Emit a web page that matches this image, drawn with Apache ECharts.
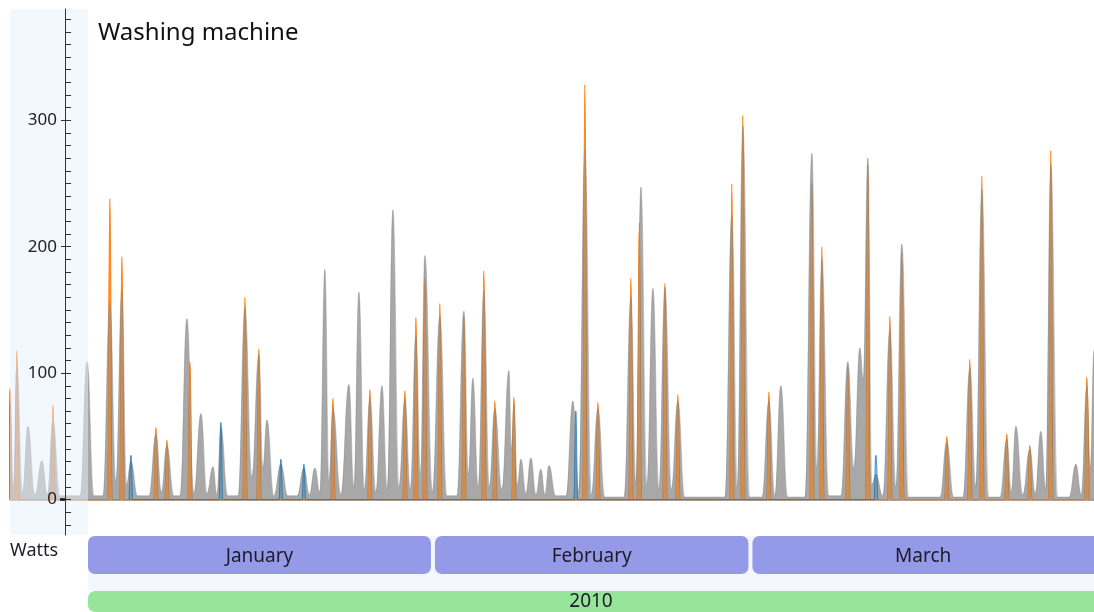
<!DOCTYPE html>
<html>
<head>
<meta charset="utf-8">
<script src="https://cdn.jsdelivr.net/npm/echarts@6/dist/echarts.min.js"></script>
<style>
  html, body { margin: 0; padding: 0; background: #ffffff; }
  #chart { width: 1094px; height: 612px; }
</style>
</head>
<body>
<div id="chart"></div>
<script>
// ---- Chart text ----
const chartTitle = 'Washing machine';
const unitLabel = 'Watts';

// ---- Axis ticks ----
const yMajorTicks = [0, 100, 200, 300];
const yMin = -28;
const yMax = 388;

// ---- Time periods (days counted from 2010-01-01 00:00 UTC) ----
const viewStartDay = -6.3;
const viewEndDay = 89.3;
const monthNames = ['January', 'February', 'March'];
const monthStartDays = [0, 31, 59, 90];
const yearNames = ['2010'];
const yearStartDays = [0, 365];

// ---- Power readings: [day, watts] ----
const grayReadings = [
  [-6.40, 60], [-6.30, 77], [-6.00, 10], [-5.69, 105], [-5.20, 5], [-4.72, 58], [-4.10, 4],
  [-3.48, 31], [-3.00, 4], [-2.51, 62], [-1.90, 3], [-0.10, 3], [0.49, 109], [1.10, 3],
  [1.90, 3], [2.51, 156], [3.04, 14], [3.57, 166], [3.97, 12], [4.37, 30], [4.95, 3],
  [5.97, 3], [6.57, 52], [7.05, 6], [7.54, 43], [8.15, 3], [8.70, 3], [9.30, 143],
  [9.92, 5], [10.54, 68], [11.07, 5], [11.60, 26], [11.95, 4], [12.30, 57], [12.90, 3],
  [13.82, 3], [14.42, 152], [15.03, 18], [15.65, 115], [16.00, 25], [16.36, 63], [16.97, 3],
  [17.59, 28], [18.20, 3], [19.02, 3], [19.62, 25], [20.10, 4], [20.59, 25], [21.03, 6],
  [21.47, 182], [21.83, 15], [22.18, 72], [22.88, 4], [23.59, 91], [24.03, 10], [24.47, 164],
  [24.95, 8], [25.44, 80], [25.97, 6], [26.50, 90], [26.98, 8], [27.47, 229], [28.00, 10],
  [28.53, 80], [29.01, 8], [29.50, 130], [29.90, 20], [30.29, 193], [30.95, 6], [31.61, 145],
  [32.22, 3], [33.12, 3], [33.73, 149], [34.13, 20], [34.52, 96], [35.00, 10], [35.49, 165],
  [35.97, 10], [36.46, 72], [37.08, 8], [37.70, 102], [37.92, 40], [38.14, 75], [38.45, 12],
  [38.76, 32], [39.20, 5], [39.64, 33], [40.08, 4], [40.52, 24], [40.88, 4], [41.23, 27],
  [41.83, 3], [42.74, 3], [43.34, 78], [43.87, 6], [44.40, 277], [44.97, 4], [45.55, 72],
  [46.15, 2], [47.86, 2], [48.46, 160], [48.90, 12], [49.34, 247], [49.87, 12], [50.40, 167],
  [50.93, 8], [51.46, 168], [52.03, 8], [52.60, 78], [53.20, 2], [56.76, 2], [57.36, 225],
  [57.85, 10], [58.33, 295], [58.93, 2], [60.03, 2], [60.63, 78], [61.15, 3], [61.68, 90],
  [62.28, 2], [63.82, 2], [64.42, 274], [64.86, 25], [65.30, 190], [65.90, 3], [66.99, 3],
  [67.59, 109], [68.12, 25], [68.65, 120], [68.95, 95], [69.36, 270], [69.71, 12], [70.06, 20],
  [70.68, 3], [71.30, 135], [71.83, 10], [72.35, 202], [72.95, 2], [75.72, 2], [76.32, 46],
  [76.92, 2], [77.75, 2], [78.35, 104], [78.88, 10], [79.41, 245], [80.01, 2], [81.01, 2],
  [81.61, 48], [82.01, 6], [82.41, 58], [83.02, 4], [83.64, 40], [84.12, 5], [84.61, 54],
  [85.05, 8], [85.49, 265], [86.09, 2], [87.10, 2], [87.70, 28], [88.18, 4], [88.67, 90],
  [88.98, 25], [89.30, 118], [89.40, 130]
];

const orangeReadings = [
  [-6.50, 0], [-6.30, 88], [-6.10, 0], [-5.89, 0], [-5.69, 118], [-5.49, 0],
  [-2.71, 0], [-2.51, 75], [-2.31, 0], [2.31, 0], [2.51, 238], [2.71, 0],
  [3.37, 0], [3.57, 192], [3.77, 0], [6.37, 0], [6.57, 57], [6.77, 0],
  [7.34, 0], [7.54, 47], [7.74, 0], [9.37, 0], [9.57, 109], [9.77, 0],
  [14.22, 0], [14.42, 160], [14.62, 0], [15.45, 0], [15.65, 119], [15.85, 0],
  [21.98, 0], [22.18, 80], [22.38, 0], [25.24, 0], [25.44, 87], [25.64, 0],
  [28.33, 0], [28.53, 86], [28.73, 0], [29.30, 0], [29.50, 144], [29.70, 0],
  [30.09, 0], [30.29, 175], [30.49, 0], [31.41, 0], [31.61, 155], [31.81, 0],
  [33.53, 0], [33.73, 145], [33.93, 0], [35.29, 0], [35.49, 181], [35.69, 0],
  [36.26, 0], [36.46, 78], [36.66, 0], [37.94, 0], [38.14, 81], [38.34, 0],
  [44.20, 0], [44.40, 328], [44.60, 0], [45.35, 0], [45.55, 77], [45.75, 0],
  [48.26, 0], [48.46, 175], [48.66, 0], [49.00, 0], [49.20, 219], [49.40, 0],
  [51.26, 0], [51.46, 171], [51.66, 0], [52.40, 0], [52.60, 83], [52.80, 0],
  [57.16, 0], [57.36, 250], [57.56, 0], [58.13, 0], [58.33, 304], [58.53, 0],
  [60.43, 0], [60.63, 85], [60.83, 0], [64.22, 0], [64.42, 250], [64.62, 0],
  [65.10, 0], [65.30, 200], [65.50, 0], [67.39, 0], [67.59, 105], [67.79, 0],
  [69.16, 0], [69.36, 265], [69.56, 0], [71.10, 0], [71.30, 145], [71.50, 0],
  [72.15, 0], [72.35, 195], [72.55, 0], [76.12, 0], [76.32, 50], [76.52, 0],
  [78.15, 0], [78.35, 111], [78.55, 0], [79.21, 0], [79.41, 256], [79.61, 0],
  [81.41, 0], [81.61, 52], [81.81, 0], [83.44, 0], [83.64, 43], [83.84, 0],
  [85.29, 0], [85.49, 276], [85.69, 0], [88.47, 0], [88.67, 97], [88.87, 0]
];

const blueReadings = [
  [4.20, 0], [4.37, 35], [4.54, 0], [12.13, 0], [12.30, 61], [12.47, 0],
  [17.42, 0], [17.59, 32], [17.76, 0], [19.45, 0], [19.62, 28], [19.79, 0],
  [43.43, 0], [43.60, 70], [43.77, 0], [69.89, 0], [70.06, 35], [70.23, 0]
];

// ---- Helpers ----
const JAN1 = Date.UTC(2010, 0, 1);
const DAY = 86400000;
const toTime = d => JAN1 + d * DAY;
const toPoints = rows => rows.map(r => [toTime(r[0]), r[1]]);

const FONT = '"Noto Sans", "Open Sans", sans-serif';
const panelRight = 88;   // right edge of the y-axis panel

// minor tick positions every 10 W along the value axis
const yMinorTicks = [];
for (let v = -20; v <= 380; v += 10) yMinorTicks.push(v);

const monthBands = monthNames.map((n, i) => [toTime(monthStartDays[i]), toTime(monthStartDays[i + 1]), n]);
const yearBands = yearNames.map((n, i) => [toTime(yearStartDays[i]), toTime(yearStartDays[i + 1]), n]);

function bandRenderer(fill, fontSize, textY) {
  return function (params, api) {
    const cs = params.coordSys;
    const a = api.coord([api.value(0), 0])[0];
    const b = api.coord([api.value(1), 0])[0];
    const left = Math.max(a + 2, panelRight);
    const right = b - 2;
    const visRight = Math.min(right, cs.x + cs.width);
    if (visRight <= left) return null;
    return {
      type: 'group',
      children: [
        {
          type: 'rect',
          shape: { x: left, y: cs.y, width: right - left, height: cs.height, r: 7 },
          style: { fill: fill }
        },
        {
          type: 'text',
          style: {
            text: api.value(2),
            x: (left + visRight) / 2,
            y: cs.y + textY,
            align: 'center',
            verticalAlign: 'middle',
            fill: '#1c1c28',
            font: fontSize + 'px ' + FONT
          }
        }
      ]
    };
  };
}

const baseTimeAxis = (gridIndex) => ({
  type: 'time',
  gridIndex: gridIndex,
  min: toTime(viewStartDay),
  max: toTime(viewEndDay),
  axisLine: { show: false },
  axisTick: { show: false },
  axisLabel: { show: false },
  splitLine: { show: false }
});

const hiddenValueAxis = (gridIndex) => ({
  type: 'value', gridIndex: gridIndex, min: 0, max: 1,
  axisLine: { show: false }, axisTick: { show: false },
  axisLabel: { show: false }, splitLine: { show: false }
});

const peakLine = {
  type: 'line', xAxisIndex: 0, yAxisIndex: 0,
  showSymbol: false, silent: true,
  smooth: 0.45, smoothMonotone: 'x'
};

const chart = echarts.init(document.getElementById('chart'), null, { renderer: 'canvas' });

chart.setOption({
  animation: false,
  backgroundColor: '#ffffff',
  title: {
    text: chartTitle,
    left: 98,
    top: 21,
    padding: 0,
    textStyle: { fontFamily: FONT, fontSize: 24, fontWeight: 'normal', color: '#111111' }
  },
  grid: [
    { left: 10, right: 0, top: 9, height: 526 },
    { left: 10, right: 0, top: 536, height: 38 },
    { left: 10, right: 0, top: 591, height: 26 }
  ],
  xAxis: [
    Object.assign(baseTimeAxis(0), {
      axisLine: { show: true, onZero: true, lineStyle: { color: '#8c8c8c', width: 1.5 } }
    }),
    baseTimeAxis(1),
    baseTimeAxis(2)
  ],
  yAxis: [
    {
      type: 'value', gridIndex: 0, min: yMin, max: yMax, position: 'left', offset: -55, z: 10,
      axisLine: { show: true, onZero: false, lineStyle: { color: '#333333', width: 1 } },
      axisTick: { show: true, inside: false, length: 4, customValues: yMajorTicks, lineStyle: { color: '#333333' } },
      axisLabel: { show: true, customValues: yMajorTicks, margin: 8, fontFamily: FONT, fontSize: 17, color: '#222222' },
      splitLine: { show: false }
    },
    {
      type: 'value', gridIndex: 0, min: yMin, max: yMax, position: 'left', offset: -55, z: 10,
      axisLine: { show: false },
      axisTick: { show: true, inside: true, length: 6, customValues: yMinorTicks, lineStyle: { color: '#333333' } },
      axisLabel: { show: false },
      splitLine: { show: false }
    },
    {
      type: 'value', gridIndex: 0, min: yMin, max: yMax, position: 'left', offset: -55, z: 10,
      axisLine: { show: false },
      axisTick: { show: true, inside: false, length: 5, customValues: [0], lineStyle: { color: '#111111', width: 2.5 } },
      axisLabel: { show: false },
      splitLine: { show: false }
    },
    hiddenValueAxis(1),
    hiddenValueAxis(2)
  ],
  graphic: [
    {
      type: 'rect', z: -1,
      shape: { x: panelRight, y: 536, width: 1094 - panelRight, height: 55 },
      style: { fill: '#f4f7fe' }
    },
    {
      type: 'rect', z: 5,
      shape: { x: 10, y: 9, width: panelRight - 10, height: 526 },
      style: { fill: 'rgba(231,239,253,0.5)' }
    },
    {
      type: 'text', z: 10, left: 10, top: 542,
      style: { text: unitLabel, font: '18px ' + FONT, fill: '#1c1c28' }
    }
  ],
  series: [
    // orange underneath: its tips show clearly where they rise above the gray
    Object.assign({}, peakLine, {
      name: 'orange', z: 1,
      data: toPoints(orangeReadings),
      lineStyle: { color: '#ff7f0e', width: 1.2 },
      areaStyle: { color: '#ff7f0e', opacity: 1 }
    }),
    Object.assign({}, peakLine, {
      name: 'gray', z: 2,
      data: toPoints(grayReadings),
      lineStyle: { color: '#7f7f7f', width: 0.8, opacity: 0.5 },
      areaStyle: { color: '#7f7f7f', opacity: 0.68 }
    }),
    // light orange tint over the gray body of each orange spike
    Object.assign({}, peakLine, {
      name: 'orange tint', z: 3,
      data: toPoints(orangeReadings),
      lineStyle: { width: 0 },
      areaStyle: { color: '#ff9a3c', opacity: 0.5 }
    }),
    Object.assign({}, peakLine, {
      name: 'blue', z: 3,
      data: toPoints(blueReadings),
      lineStyle: { color: '#1f77b4', width: 1, opacity: 0.8 },
      areaStyle: { color: '#1f77b4', opacity: 0.35 }
    }),
    {
      name: 'months', type: 'custom', xAxisIndex: 1, yAxisIndex: 3, silent: true,
      renderItem: bandRenderer('#9499e8', 19, 21),
      data: monthBands
    },
    {
      name: 'years', type: 'custom', xAxisIndex: 2, yAxisIndex: 4, silent: true,
      renderItem: bandRenderer('#96e59b', 19, 11),
      data: yearBands
    }
  ]
});
</script>
</body>
</html>
